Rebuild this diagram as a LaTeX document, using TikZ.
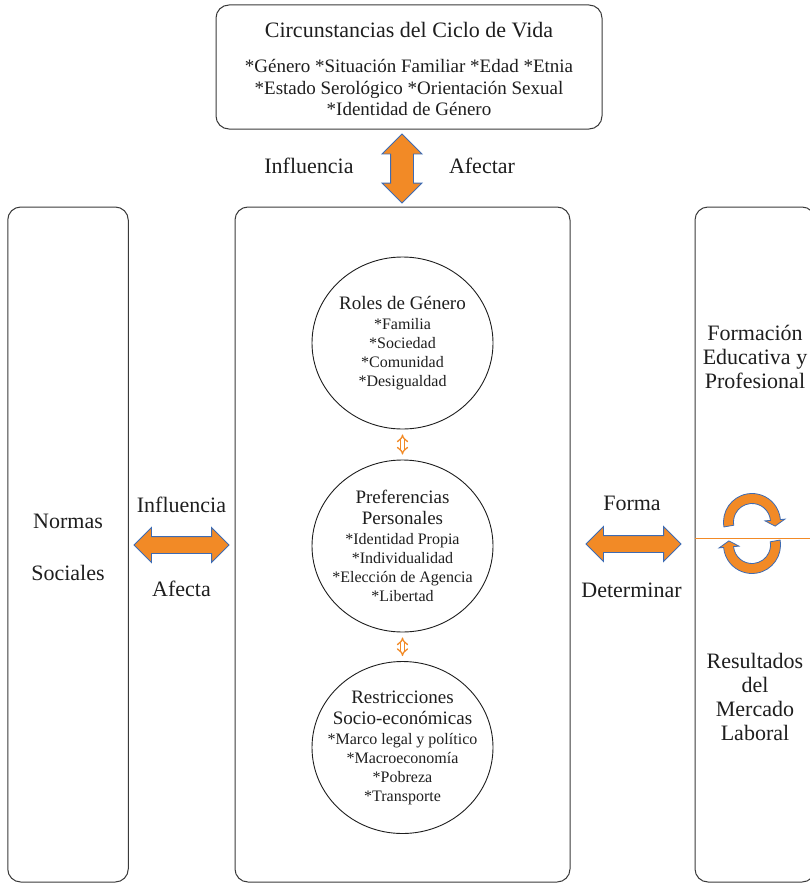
\documentclass[tikz,border=0pt]{standalone}
\usepackage{fontspec}
\setmainfont{Liberation Serif}
\usetikzlibrary{positioning,shapes.geometric,shapes.arrows,arrows.meta}
\definecolor{MOrange}{HTML}{F28A26}
\definecolor{MBlue}{HTML}{3D6BB3}
\definecolor{MInk}{HTML}{1E1E1E}
\definecolor{MLine}{HTML}{3A3A3A}

\begin{document}
\begin{tikzpicture}[x=1pt, y=-1pt,
  every node/.style={align=center, text=MInk},
  panel/.style={draw=MLine, line width=1pt, rounded corners=13pt, inner sep=0pt},
  bubble/.style={ellipse, draw=MInk, line width=0.9pt, minimum width=181pt, minimum height=172pt, inner sep=0pt},
  bigarrow/.style={double arrow, fill=MOrange, draw=MBlue, line width=0.9pt, inner xsep=0pt},
  tie/.style={draw=MOrange, line width=1.3pt, double=white, double distance=2.5pt, shorten <=5pt, shorten >=5pt, {Implies}-{Implies}},
  lbl/.style={font=\fontsize{22}{24}\selectfont},
  head/.style={font=\fontsize{19}{21}\selectfont},
  items/.style={font=\fontsize{16}{19}\selectfont}]
  \useasboundingbox (0,0) rectangle (810,883);

  \node[panel, minimum width=386pt, minimum height=124pt] (ciclo) at (409,67) {};
  \node[font=\fontsize{22}{26}\selectfont] (cicloT) at (409,30) {Circunstancias del Ciclo de Vida};
  \node[font=\fontsize{19}{21.5}\selectfont] (cicloL) at (409,87.5) {*Género *Situación Familiar *Edad *Etnia\\*Estado Serológico *Orientación Sexual\\*Identidad de Género};

  \node[panel, minimum width=120.5pt, minimum height=675pt] (normas) at (68,544.5) {};
  \node[panel, minimum width=335pt, minimum height=675pt] (centro) at (402.5,544.5) {};
  \node[panel, minimum width=120pt, minimum height=675pt] (mercado) at (755,544.5) {};

  \node[bigarrow, minimum height=69pt, inner ysep=11pt, double arrow head extend=8.5pt, rotate=90] (upar) at (402,168.5) {};
  \node[lbl] at (309,166) {Influencia};
  \node[lbl] at (482,166) {Afectar};

  \node[lbl] at (68,521) {Normas};
  \node[lbl] at (68,573) {Sociales};

  \node[bigarrow, minimum height=95pt, inner ysep=8pt, double arrow head extend=9pt] (leftar) at (181.5,545) {};
  \node[lbl] at (181.5,505) {Influencia};
  \node[lbl] at (181.5,589) {Afecta};

  \node[bigarrow, minimum height=95pt, inner ysep=8pt, double arrow head extend=9pt] (rightar) at (633.5,544) {};
  \node[lbl] at (632,503.5) {Forma};
  \node[lbl] at (631.5,590) {Determinar};

  \node[bubble] (roles) at (402.5,343) {};
  \node[items] at (roles) {{\fontsize{19}{21}\selectfont Roles de Género}\\[1pt]*Familia\\*Sociedad\\*Comunidad\\*Desigualdad};
  \node[bubble] (prefs) at (402.5,546) {};
  \node[items] at (prefs) {{\fontsize{19}{21}\selectfont Preferencias}\\[2pt]{\fontsize{19}{21}\selectfont Personales}\\[1pt]*Identidad Propia\\*Individualidad\\*Elección de Agencia\\*Libertad};
  \node[bubble] (restr) at (402.5,747.5) {};
  \node[items] at (restr) {{\fontsize{19}{21}\selectfont Restricciones}\\[2pt]{\fontsize{19}{21}\selectfont Socio-económicas}\\[1pt]*Marco legal y político\\*Macroeconomía\\*Pobreza\\*Transporte};
  \draw[tie] (roles) -- (prefs);
  \draw[tie] (prefs) -- (restr);

  \node[lbl] at (755,357) {Formación\\Educativa y\\Profesional};
  \node[lbl] at (755,697) {Resultados\\del\\Mercado\\Laboral};
  \draw[draw=MOrange, line width=1pt] (695,538) -- (815,538);
  \foreach \turn in {0,180}
    \filldraw[fill=MOrange, draw=MBlue, line width=0.8pt, rotate around={\turn:(752,533.5)}, shift={(752,522)}]
      (170:28.5) arc[start angle=170, end angle=355, radius=28.5] -- (355:33) -- (10:23.5) -- (355:13)
      -- (355:18.5) arc[start angle=355, end angle=170, radius=18.5] -- cycle;
\end{tikzpicture}
\end{document}
